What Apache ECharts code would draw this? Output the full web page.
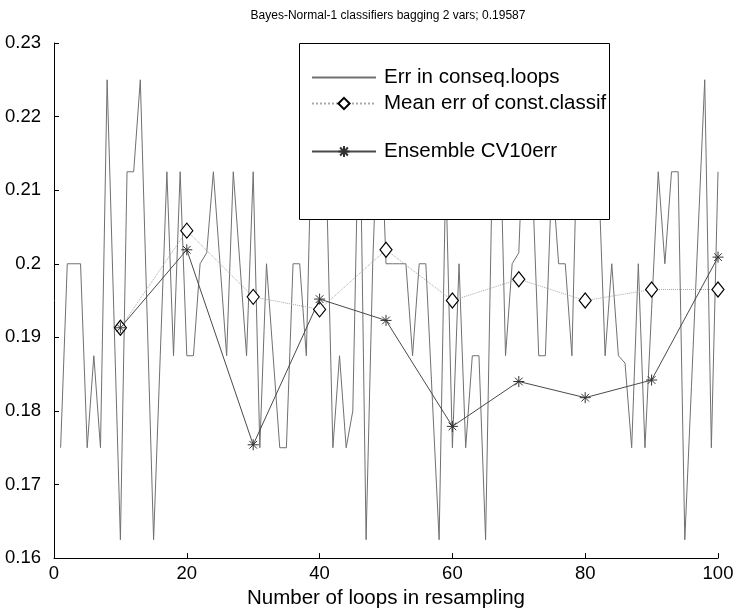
<!DOCTYPE html>
<html><head><meta charset="utf-8">
<script src="https://cdn.jsdelivr.net/npm/echarts@6/dist/echarts.min.js"></script>
<style>html,body{margin:0;padding:0;background:#fff}#c{width:739px;height:614px}</style>
</head><body><div id="c"></div>
<script>
const titleText = 'Bayes-Normal-1 classifiers bagging 2 vars; 0.19587';
const xAxisName = 'Number of loops in resampling';
const seriesNames = ['Err in conseq.loops', 'Mean err of const.classif', 'Ensemble CV10err'];

// error in consecutive loops, loops 1..100
const errLoops = [
  0.175, 0.2, 0.2, 0.2, 0.175, 0.1875, 0.175, 0.225, 0.19375, 0.1625,
  0.2125, 0.2125, 0.225, 0.19375, 0.1625, 0.1875, 0.2125, 0.1875, 0.2125, 0.1875,
  0.1875, 0.2, 0.2015, 0.2125, 0.2, 0.1875, 0.2125, 0.2, 0.1875, 0.2125,
  0.175, 0.2, 0.1875, 0.175, 0.175, 0.2, 0.2, 0.1875, 0.225, 0.2125,
  0.2125, 0.175, 0.1875, 0.175, 0.18, 0.225, 0.1625, 0.2, 0.225, 0.2,
  0.2, 0.2, 0.2, 0.1875, 0.2, 0.2, 0.18125, 0.1625, 0.2125, 0.175,
  0.2, 0.175, 0.1875, 0.1875, 0.1625, 0.2125, 0.225, 0.1875, 0.2, 0.2015,
  0.225, 0.2125, 0.1875, 0.1875, 0.2125, 0.2, 0.2, 0.1875, 0.225, 0.2125,
  0.225, 0.2125, 0.1875, 0.2, 0.1875, 0.1865, 0.175, 0.2, 0.175, 0.19375,
  0.2125, 0.2, 0.2125, 0.2125, 0.1625, 0.1833, 0.2042, 0.225, 0.175, 0.2125
];
const markLoops = [10, 20, 30, 40, 50, 60, 70, 80, 90, 100];
const meanErr = [0.1913, 0.2045, 0.1955, 0.1938, 0.2019, 0.1950, 0.1979, 0.1950, 0.1965, 0.1965];
const ensErr  = [0.1913, 0.2019, 0.1754, 0.1952, 0.1923, 0.1779, 0.1840, 0.1818, 0.1842, 0.2009];

const xMin = 0, xMax = 100, xStep = 20;
const yMin = 0.16, yMax = 0.23, yStep = 0.01;

const FONT = '"Liberation Sans", Arial, Helvetica, sans-serif';
const starPath = 'path://M10,0L10,20M0,10L20,10M3,3L17,17M3,17L17,3';
const legendText = {fontFamily: FONT, fontSize: 20.5, color: '#000', padding: [0, 0, 0, 3]};

const chart = echarts.init(document.getElementById('c'), null, {renderer: 'canvas'});
chart.setOption({
  animation: false,
  backgroundColor: '#fff',
  textStyle: {fontFamily: FONT},
  title: {
    text: titleText, left: 383, top: 5, textAlign: 'center',
    textStyle: {fontFamily: FONT, fontSize: 12, fontWeight: 'normal', color: '#000'}
  },
  grid: {left: 54, right: 21, top: 43, bottom: 43, containLabel: false},
  xAxis: {
    type: 'value', min: xMin, max: xMax, interval: xStep,
    name: xAxisName, nameLocation: 'middle', nameGap: 22,
    nameTextStyle: {fontFamily: FONT, fontSize: 20.5, color: '#000'},
    axisLine: {show: true, lineStyle: {color: '#000', width: 1}},
    axisTick: {show: true, inside: true, length: 5, lineStyle: {color: '#000'}},
    axisLabel: {fontFamily: FONT, fontSize: 18.5, color: '#000', margin: 6},
    splitLine: {show: false}
  },
  yAxis: {
    type: 'value', min: yMin, max: yMax, interval: yStep,
    axisLine: {show: true, lineStyle: {color: '#000', width: 1}},
    axisTick: {show: true, inside: true, length: 5, lineStyle: {color: '#000'}},
    axisLabel: {fontFamily: FONT, fontSize: 18.5, color: '#000', margin: 13,
      formatter: v => String(+v.toFixed(2))},
    splitLine: {show: false}
  },
  graphic: [{
    type: 'rect', left: 299, top: 43, z: 3,
    shape: {width: 310, height: 176},
    style: {fill: '#fff', stroke: '#000', lineWidth: 1}
  }],
  legend: [
    {data: [{name: seriesNames[0], itemStyle: {opacity: 0}}], left: 311, top: 67, padding: 0,
     itemWidth: 64, itemHeight: 14, z: 5, textStyle: legendText},
    {data: [seriesNames[1]], left: 311, top: 93, padding: 0,
     itemWidth: 64, itemHeight: 14, z: 5, textStyle: legendText},
    {data: [seriesNames[2]], left: 311, top: 141, padding: 0,
     itemWidth: 64, itemHeight: 14, z: 5, textStyle: legendText}
  ],
  series: [
    {
      name: seriesNames[0], type: 'line', z: 2,
      data: errLoops.map((v, i) => [i + 1, v]),
      symbol: 'none', showSymbol: false,
      lineStyle: {color: '#707070', width: 1},
      itemStyle: {color: '#707070'}
    },
    {
      name: seriesNames[1], type: 'line', z: 2,
      data: markLoops.map((x, i) => [x, meanErr[i]]),
      symbol: 'diamond', symbolSize: [12, 15], showSymbol: true,
      lineStyle: {color: '#a8a8a8', width: 1, type: 'dotted'},
      itemStyle: {color: '#fff', borderColor: '#000', borderWidth: 1.2}
    },
    {
      name: seriesNames[2], type: 'line', z: 2,
      data: markLoops.map((x, i) => [x, ensErr[i]]),
      symbol: starPath, symbolSize: 11, showSymbol: true,
      lineStyle: {color: '#4a4a4a', width: 1},
      itemStyle: {color: '#333', borderColor: '#333', borderWidth: 1}
    }
  ]
});
</script></body></html>
